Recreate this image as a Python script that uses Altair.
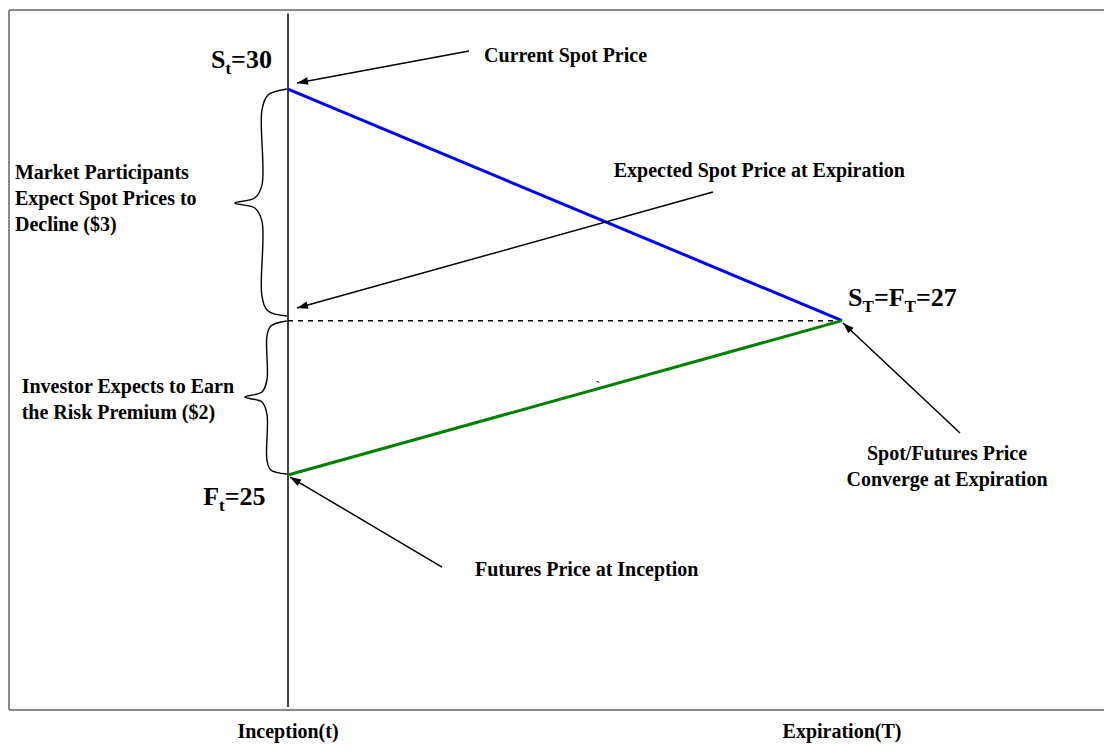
import math
import altair as alt
import pandas as pd

# ---------------- data (time: inception=0, expiration=1 ; price in $) ----------------
times = [0, 1]
spot_path = [30, 27]          # expected spot price path S_t -> S_T
futures_path = [25, 27]       # futures price path F_t -> F_T
expected_level = [27, 27]     # expected spot price at expiration (dotted)

# arrows: tail (t0,p0) -> head (t1,p1)
arrow_t0 = [0.3267, 0.7671, 0.278, 1.213]
arrow_p0 = [30.492, 28.666, 23.808, 25.544]
arrow_t1 = [0.0163, 0.0163, 0.0036, 1.0018]
arrow_p1 = [30.078, 27.163, 24.974, 26.969]

# curly braces (control points)
brace1_t = [-0.002, -0.036, -0.047, -0.047, -0.060, -0.096, -0.060, -0.047, -0.047, -0.036, -0.002]
brace1_p = [30.000, 29.922, 29.728, 28.756, 28.588, 28.523, 28.459, 28.290, 27.319, 27.124, 27.060]
brace2_t = [-0.002, -0.031, -0.038, -0.038, -0.047, -0.078, -0.047, -0.038, -0.038, -0.031, -0.002]
brace2_p = [26.995, 26.930, 26.801, 26.231, 26.075, 26.010, 25.946, 25.790, 25.194, 25.065, 25.013]

# left aligned annotations
left_text = ["Current Spot Price", "Expected Spot Price at Expiration",
             "Market Participants", "Expect Spot Prices to", "Decline ($3)",
             "Investor Expects to Earn", "the Risk Premium ($2)",
             "Futures Price at Inception"]
left_t = [0.354, 0.588, -0.4928, -0.4928, -0.4928, -0.4807, -0.4807, 0.3375]
left_p = [30.427, 28.942, 28.908, 28.571, 28.238, 26.144, 25.807, 23.769]

# centered annotations
center_text = ["Spot/Futures Price", "Converge at Expiration", "Inception(t)", "Expiration(T)"]
center_t = [1.1895, 1.1895, 0, 1]
center_p = [25.272, 24.935, 21.665, 21.665]

# stray tick mark visible in the original figure
stray_text = ["`"]
stray_t = [0.5596]
stray_p = [26.14]

# price labels with subscripts: pieces (text, is_subscript)
st_pieces = [("S", 0), ("t", 1), ("=30", 0)]
ft_pieces = [("F", 0), ("t", 1), ("=25", 0)]
sT_pieces = [("S", 0), ("T", 1), ("=F", 0), ("T", 1), ("=27", 0)]
price_label_t = [-0.139, -0.153, 1.011]
price_label_p = [30.272, 24.611, 27.189]

# ---------------- layout ----------------
W, H = 1096, 738
X_DOM = [-0.5054, 1.4729]
Y_DOM = [21.49, 31.05]
FONT = "Liberation Serif"

xs = alt.Scale(domain=X_DOM)
ys = alt.Scale(domain=Y_DOM)
X = lambda f: alt.X(f, type="quantitative", scale=xs, axis=None)
Y = lambda f: alt.Y(f, type="quantitative", scale=ys, axis=None)

px_x = W / (X_DOM[1] - X_DOM[0])
px_y = H / (Y_DOM[1] - Y_DOM[0])

layers = []

# frame (top, bottom, left)
frame_df = pd.DataFrame({
    "t": [-0.5036, -0.5036, -0.5036],
    "t2": [X_DOM[1], X_DOM[1], -0.5036],
    "p": [31.023, 21.956, 31.023],
    "p2": [31.023, 21.956, 21.956],
})
layers.append(alt.Chart(frame_df).mark_rule(color="#8a8a8a", strokeWidth=2).encode(
    x=X("t"), x2="t2", y=Y("p"), y2="p2"))

# inception vertical line
layers.append(alt.Chart(pd.DataFrame({"t": [0], "p": [30.98], "p2": [21.995]}))
              .mark_rule(color="black", strokeWidth=1.5)
              .encode(x=X("t"), y=Y("p"), y2="p2"))

# dotted expected level
layers.append(alt.Chart(pd.DataFrame({"t": times, "p": expected_level}))
              .mark_line(color="black", strokeWidth=1.5, strokeDash=[5, 5])
              .encode(x=X("t"), y=Y("p")))

# spot / futures paths
paths = pd.DataFrame({
    "t": times + times,
    "p": spot_path + futures_path,
    "series": ["Spot"] * 2 + ["Futures"] * 2,
})
layers.append(alt.Chart(paths).mark_line(strokeWidth=3).encode(
    x=X("t"), y=Y("p"),
    color=alt.Color("series:N", scale=alt.Scale(domain=["Spot", "Futures"],
                                                range=["#0000ff", "#008000"]), legend=None)))

# braces
br = pd.DataFrame({
    "t": brace1_t + brace2_t,
    "p": brace1_p + brace2_p,
    "i": list(range(len(brace1_t))) + list(range(len(brace2_t))),
    "b": ["b1"] * len(brace1_t) + ["b2"] * len(brace2_t),
})
layers.append(alt.Chart(br).mark_line(color="black", strokeWidth=1.4, interpolate="catmull-rom").encode(
    x=X("t"), y=Y("p"), order=alt.Order("i:Q"), detail="b:N"))

# arrows
ar = pd.DataFrame({"t0": arrow_t0, "p0": arrow_p0, "t1": arrow_t1, "p1": arrow_p1})
ar["ang"] = [
    math.degrees(math.atan2((a1 - a0) * px_x, (b1 - b0) * px_y)) % 360
    for a0, b0, a1, b1 in zip(arrow_t0, arrow_p0, arrow_t1, arrow_p1)
]
layers.append(alt.Chart(ar).mark_rule(color="black", strokeWidth=1.5).encode(
    x=X("t0"), y=Y("p0"), x2="t1", y2="p1"))
layers.append(alt.Chart(ar).mark_point(
    shape="M0,0 L-0.75,2.2 L0.75,2.2 Z", filled=True, size=100, color="black", opacity=1, strokeWidth=0
).encode(x=X("t1"), y=Y("p1"), angle=alt.Angle("ang:Q", scale=None)))

# text annotations
lt = pd.DataFrame({"t": left_t, "p": left_p, "s": left_text})
layers.append(alt.Chart(lt).mark_text(align="left", baseline="middle", font=FONT, fontWeight="bold",
                                      fontSize=20, color="black")
              .encode(x=X("t"), y=Y("p"), text="s:N"))
ct = pd.DataFrame({"t": center_t, "p": center_p, "s": center_text})
layers.append(alt.Chart(ct).mark_text(align="center", baseline="middle", font=FONT, fontWeight="bold",
                                      fontSize=20, color="black")
              .encode(x=X("t"), y=Y("p"), text="s:N"))
sd = pd.DataFrame({"t": stray_t, "p": stray_p, "s": stray_text})
layers.append(alt.Chart(sd).mark_text(align="center", baseline="middle", font=FONT,
                                      fontSize=14, color="black")
              .encode(x=X("t"), y=Y("p"), text="s:N"))

# composed price labels with subscripts
WID = {"S": 0.556, "F": 0.611, "T": 0.667, "t": 0.333, "=": 0.570,
       "0": 0.5, "2": 0.5, "3": 0.5, "5": 0.5, "7": 0.5}
MAIN, SUB = 26, 17

for pieces, t0, p0 in zip([st_pieces, ft_pieces, sT_pieces], price_label_t, price_label_p):
    dx = 0.0
    for txt, is_sub in pieces:
        size = SUB if is_sub else MAIN
        layers.append(
            alt.Chart(pd.DataFrame({"t": [t0], "p": [p0], "s": [txt]}))
            .mark_text(align="left", baseline="alphabetic", font=FONT, fontWeight="bold",
                       fontSize=size, color="black", dx=dx, dy=6 if is_sub else 0)
            .encode(x=X("t"), y=Y("p"), text="s:N")
        )
        dx += sum(WID.get(c, 0.5) for c in txt) * size

chart = alt.layer(*layers).properties(
    width=W, height=H, autosize=alt.AutoSizeParams(type="none"), padding=0
).configure_view(stroke=None)

chart.save("out.html", embed_options={"renderer": "svg", "actions": False})
